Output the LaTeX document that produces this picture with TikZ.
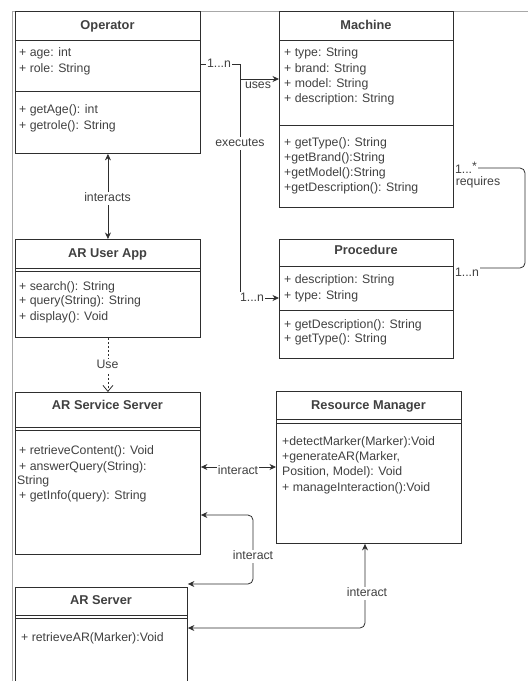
\documentclass[tikz,border=0pt]{standalone}
\usepackage{fontspec}
\setmainfont{Liberation Sans}
\usetikzlibrary{arrows.meta}
\definecolor{linec}{HTML}{2E2E2E}
\definecolor{txtc}{HTML}{404040}
\definecolor{framec}{HTML}{A8A8A8}
\tikzset{
 classbox/.style={draw=linec, line width=0.9pt, inner sep=0pt, anchor=north west},
 div/.style={draw=linec, line width=0.8pt},
 ttl/.style={font=\fontsize{12.8}{14}\selectfont\bfseries, text=txtc, inner sep=0pt, text height=9pt, text depth=2.5pt},
 mem/.style={font=\fontsize{12.3}{14}\selectfont, text=txtc, inner sep=0pt, anchor=west, text height=8.8pt, text depth=2.6pt},
 conn/.style={draw=linec, line width=0.8pt, rounded corners=5pt},
 tipend/.style={-{Stealth[length=6.5pt,width=6pt]}},
 tipboth/.style={{Stealth[length=6.5pt,width=6pt]}-{Stealth[length=6.5pt,width=6pt]}},
 lbl/.style={font=\fontsize{12.3}{14}\selectfont, text=txtc, fill=white, inner sep=0.8pt, text height=8.8pt, text depth=2.6pt},
}
\begin{document}
\begin{tikzpicture}[x=1pt,y=-1pt]
\useasboundingbox (0,0) rectangle (528,681);
\clip (0,0) rectangle (528,681);
% frame
\draw[framec, line width=0.8pt] (12.5,681) -- (12.5,11) -- (528,11);

% ---------- Operator ----------
\node[classbox, minimum width=185pt, minimum height=142pt] (op) at (15,11) {};
\draw[div] (15,40) -- (200,40);
\draw[div] (15,91) -- (200,91);
\node[ttl] (opt) at (107.5,26) {Operator};
\node[mem] (op1) at (19,53) {+ age: int};
\node[mem] (op2) at (19,69) {+ role: String};
\node[mem] (op3) at (19,110) {+ getAge(): int};
\node[mem] (op4) at (19,126) {+ getrole(): String};

% ---------- Machine ----------
\node[classbox, minimum width=174pt, minimum height=196pt] (ma) at (279,11) {};
\draw[div] (279,40) -- (453,40);
\draw[div] (279,125) -- (453,125);
\node[ttl] (mat) at (366,26) {Machine};
\node[mem] (ma1) at (284,53) {+ type: String};
\node[mem] (ma2) at (284,69) {+ brand: String};
\node[mem] (ma3) at (284,84) {+ model: String};
\node[mem] (ma4) at (284,99) {+ description: String};
\node[mem] (ma5) at (284,143) {+ getType(): String};
\node[mem] (ma6) at (284,158) {+getBrand():String};
\node[mem] (ma7) at (284,173) {+getModel():String};
\node[mem] (ma8) at (284,188) {+getDescription(): String};

% ---------- Procedure ----------
\node[classbox, minimum width=174pt, minimum height=119pt] (pr) at (279,239) {};
\draw[div] (279,266) -- (453,266);
\draw[div] (279,310) -- (453,310);
\node[ttl] (prt) at (366,251) {Procedure};
\node[mem] (pr1) at (284,280) {+ description: String};
\node[mem] (pr2) at (284,296) {+ type: String};
\node[mem] (pr3) at (284,325) {+ getDescription(): String};
\node[mem] (pr4) at (284,339) {+ getType(): String};

% ---------- AR User App ----------
\node[classbox, minimum width=185pt, minimum height=98pt] (ua) at (15,239) {};
\draw[div] (15,268) -- (200,268);
\draw[div] (15,271.5) -- (200,271.5);
\node[ttl] (uat) at (107.5,254) {AR User App};
\node[mem] (ua1) at (19,287) {+ search(): String};
\node[mem] (ua2) at (19,301) {+ query(String): String};
\node[mem] (ua3) at (19,317) {+ display(): Void};

% ---------- AR Service Server ----------
\node[classbox, minimum width=185pt, minimum height=162pt] (ss) at (15,392) {};
\draw[div] (15,427) -- (200,427);
\draw[div] (15,430.5) -- (200,430.5);
\node[ttl] (sst) at (107.5,406) {AR Service Server};
\node[mem] (ss1) at (19,451) {+ retrieveContent(): Void};
\node[mem] (ss2) at (19,467) {+ answerQuery(String):};
\node[mem] (ss3) at (17,481) {String};
\node[mem] (ss4) at (19,496) {+ getInfo(query): String};

% ---------- Resource Manager ----------
\node[classbox, minimum width=185pt, minimum height=152pt] (rm) at (276,391) {};
\draw[div] (276,419) -- (461,419);
\draw[div] (276,423.5) -- (461,423.5);
\node[ttl] (rmt) at (368.5,406) {Resource Manager};
\node[mem] (rm1) at (282,442) {+detectMarker(Marker):Void};
\node[mem] (rm2) at (282,457) {+generateAR(Marker,};
\node[mem] (rm3) at (282,472) {Position, Model): Void};
\node[mem] (rm4) at (282,488) {+ manageInteraction():Void};

% ---------- AR Server ----------
\node[classbox, minimum width=172pt, minimum height=110pt] (as) at (15,587) {};
\draw[div] (15,615) -- (187,615);
\draw[div] (15,618.5) -- (187,618.5);
\node[ttl] (ast) at (101,601) {AR Server};
\node[mem] (as1) at (21,638) {+ retrieveAR(Marker):Void};

% ---------- connectors ----------
\coordinate (yU) at (0,64);
\coordinate (yUses) at (0,79);
\coordinate (yExec) at (0,298);
\coordinate (xJ) at (240,0);
% uses
\draw[conn, rounded corners=0pt, tipend] (op.east |- yU) -- (xJ |- yU) -- (xJ |- yUses) -- (ma.west |- yUses);
% executes
\draw[conn, rounded corners=0pt, tipend] (op.east |- yU) -- (xJ |- yU) -- (xJ |- yExec) -- (pr.west |- yExec);
\node[lbl] (l1n) at (219,64) {1...n};
\node[lbl, fill=none] (luses) at (258,85) {uses};
\node[lbl] (lexec) at (240,143) {executes};
\node[lbl] (l1n2) at (252,298) {1...n};

% requires
\coordinate (yR1) at (0,168);
\coordinate (yR2) at (0,268);
\coordinate (xR) at (525,0);
\draw[conn] (ma.east |- yR1) -- (xR |- yR1) -- (xR |- yR2) -- (pr.east |- yR2);
\node[lbl] (lr1) at (466,170) {1...\raisebox{3pt}{*}};
\node[lbl, fill=none] (lreq) at (478,182) {requires};
\node[lbl] (lr2) at (467,273) {1...n};

% interacts
\draw[conn, tipboth] (op.south) -- (ua.north);
\node[lbl] (linter) at (107.5,198) {interacts};
% Use
\draw[conn, dash pattern=on 2.5pt off 1.5pt, -{Straight Barb[length=6pt,width=10pt]}] (ua.south) -- (ss.north);
\node[lbl] (luse) at (107.5,365) {Use};

% interact 1
\coordinate (yI1) at (0,467);
\draw[conn, tipboth] (ss.east |- yI1) -- (rm.west |- yI1);
\node[lbl] (li1) at (238,471) {interact};
% interact 2
\coordinate (yI2a) at (0,515);
\coordinate (yI2b) at (0,584);
\coordinate (xI2) at (253,0);
\draw[conn, tipboth] (ss.east |- yI2a) -- (xI2 |- yI2a) -- (xI2 |- yI2b) -- (as.east |- yI2b);
\node[lbl] (li2) at (253,556) {interact};
% interact 3
\coordinate (xI3) at (365,0);
\coordinate (yI3) at (0,628);
\draw[conn, tipboth] (rm.south -| xI3) -- (xI3 |- yI3) -- (as.east |- yI3);
\node[lbl] (li3) at (367,593) {interact};
\end{tikzpicture}
\end{document}
